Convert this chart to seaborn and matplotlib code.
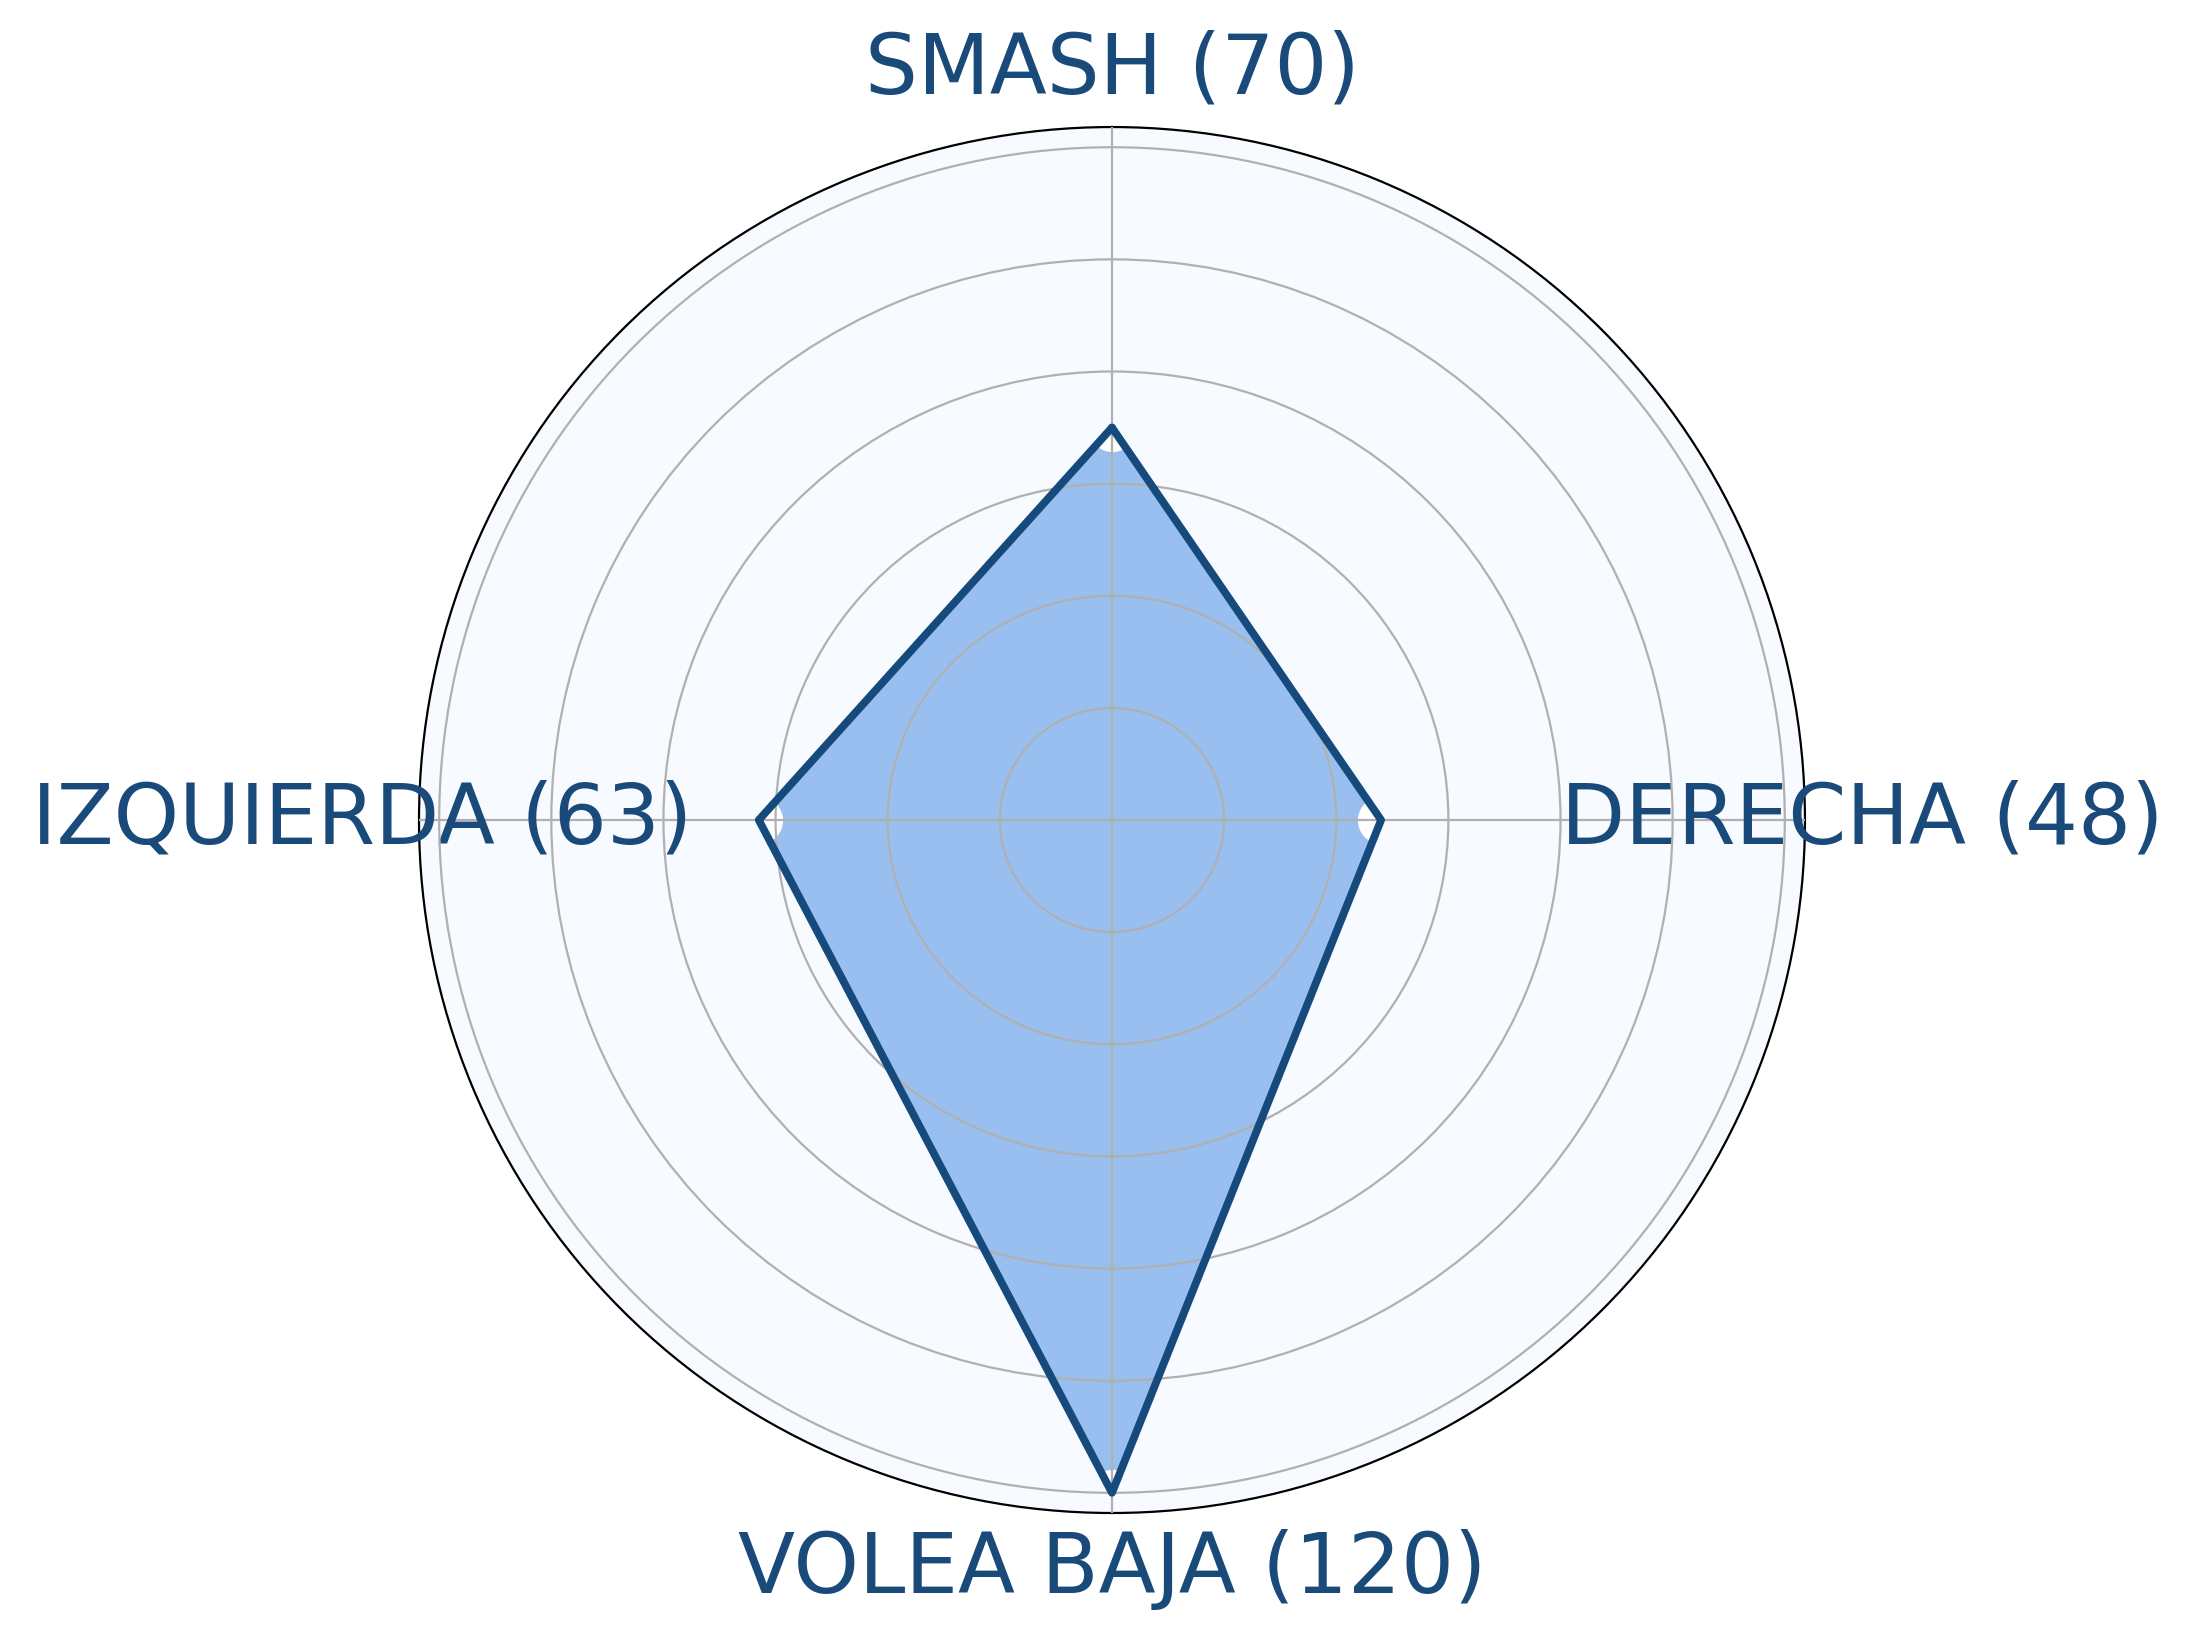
import numpy as np
import pandas as pd
import matplotlib
matplotlib.use("Agg")
import matplotlib.pyplot as plt
import seaborn as sns

# Chart data
categories = ["SMASH", "DERECHA", "VOLEA BAJA", "IZQUIERDA"]
values = [70, 48, 120, 63]
radial_ticks = [20, 40, 60, 80, 100, 120]

TEXT_COLOR = "#1a4a7a"
LINE_COLOR = "#174a7c"
FILL_COLOR = "#98bff0"
BG_COLOR = "#f7faff"

sns.set_style("white")
plt.rcParams["font.family"] = ["DejaVu Sans"]

angles = np.linspace(0, 2 * np.pi, len(categories), endpoint=False)
df = pd.DataFrame({"theta": np.append(angles, angles[0]),
                   "r": values + values[:1]})

fig = plt.figure(figsize=(10.97, 8.215), dpi=200)
ax = fig.add_axes([0.19098, 0.0791, 0.6317, 0.8436], projection="polar")
ax.set_facecolor(BG_COLOR)
ax.set_theta_offset(np.pi / 2)
ax.set_theta_direction(-1)

# filled area, white vertex markers (only visible inside the area), outline
area = ax.fill(df["theta"], df["r"], color=FILL_COLOR, zorder=1)[0]
dots = ax.plot(angles, values, linestyle="none", marker="o", markersize=17,
               markerfacecolor="white", markeredgecolor="none", zorder=2)[0]
dots.set_clip_path(area)
sns.lineplot(data=df, x="theta", y="r", sort=False, estimator=None,
             color=LINE_COLOR, linewidth=2.8, ax=ax, zorder=3)

ax.set_ylim(0, 123.6)
ax.set_yticks(radial_ticks)
ax.set_yticklabels([])
ax.set_xticks(angles)
ax.set_xticklabels([f"{c} ({v})" for c, v in zip(categories, values)],
                   fontsize=30, color=TEXT_COLOR)
ax.tick_params(axis="x", pad=10)
ax.set_xlabel("")
ax.set_ylabel("")
ax.set_axisbelow(False)
ax.grid(True, color="#b0b0b0", linewidth=0.8, zorder=2.5)
ax.spines["polar"].set_color("black")
ax.spines["polar"].set_linewidth(0.8)

fig.savefig("out.png", dpi=200, facecolor="white")
